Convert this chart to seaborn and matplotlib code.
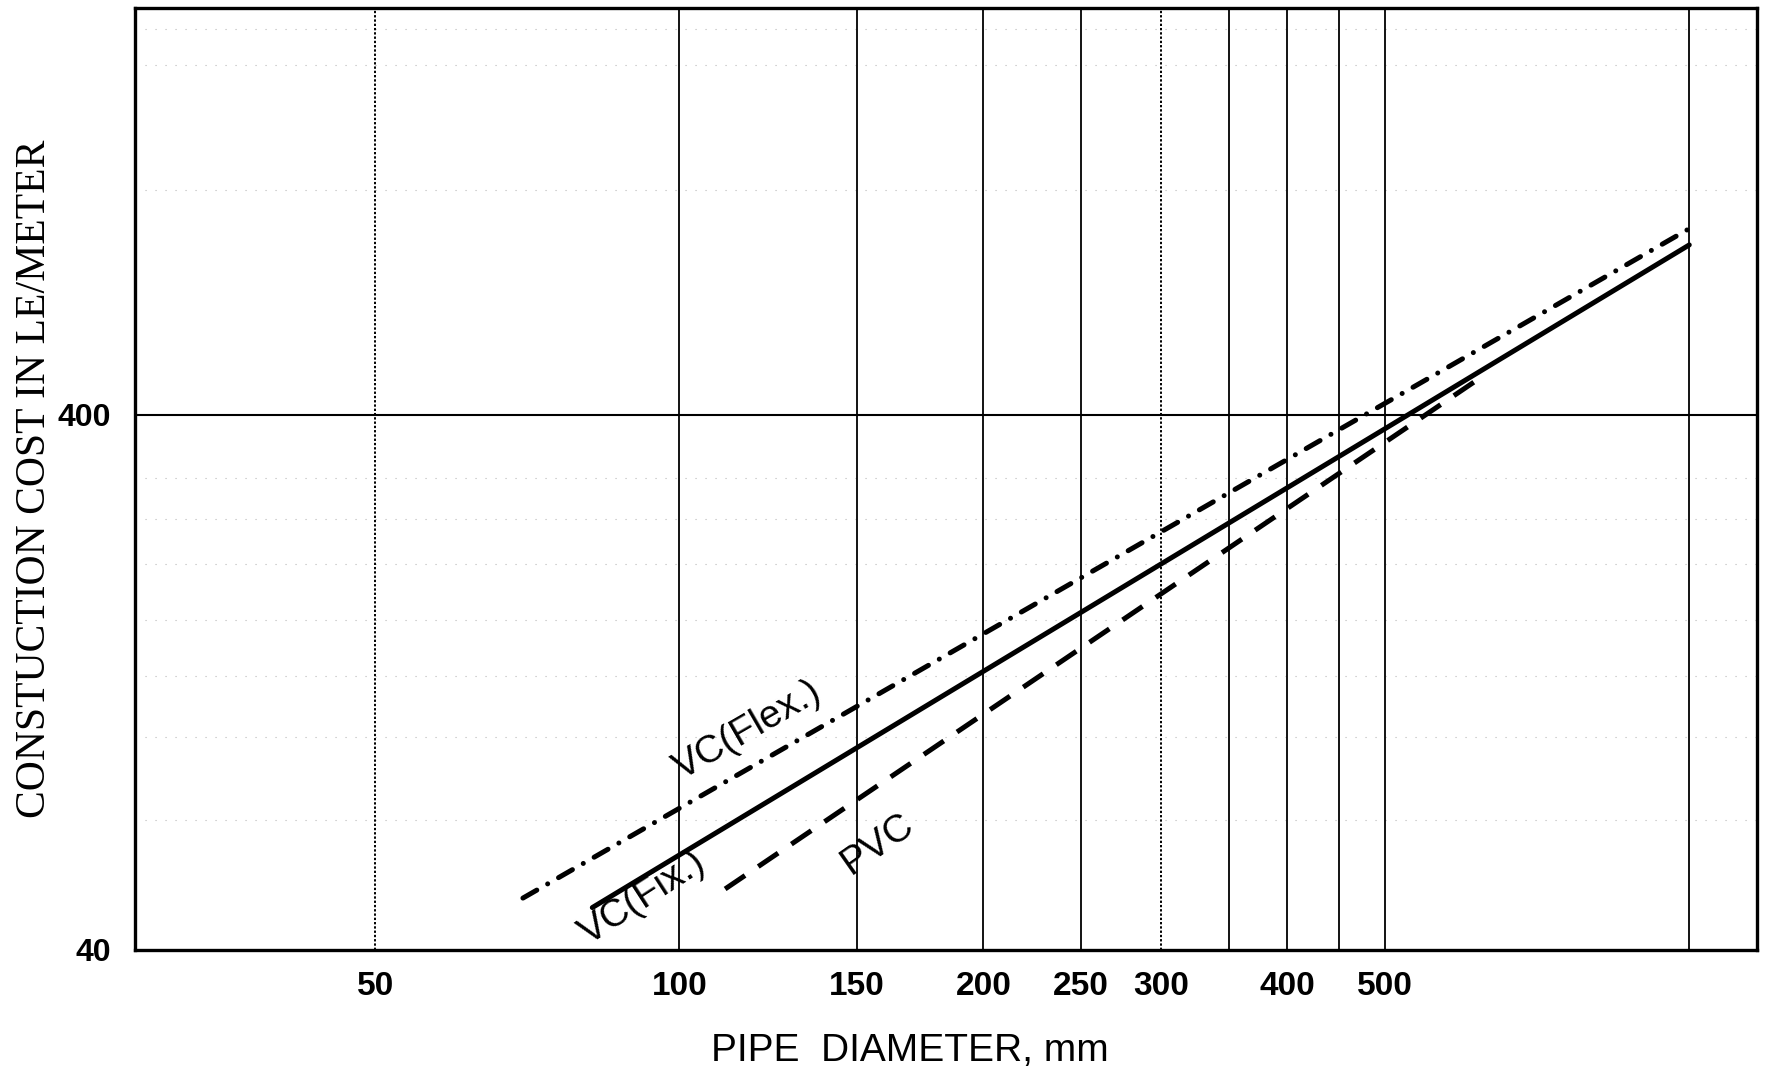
import numpy as np
import pandas as pd
import matplotlib
matplotlib.use("Agg")
import matplotlib.pyplot as plt
import seaborn as sns
from matplotlib.ticker import NullLocator, FixedLocator, FixedFormatter

# ---------------- data ----------------
series_names = ["VC(Flex.)", "VC(Fix.)", "PVC"]
flex_diameter = [70, 1000]
flex_cost = [50, 890]
fix_diameter = [82, 1000]
fix_cost = [48, 830]
pvc_diameter = [111, 612]
pvc_cost = [52, 460]

x_ticks = [50, 100, 150, 200, 250, 300, 400, 500]
x_tick_labels = ["50", "100", "150", "200", "250", "300", "400", "500"]
y_ticks = [40, 400]
y_tick_labels = ["40", "400"]

solid_vgrid = [100, 150, 200, 250, 350, 400, 450, 500, 1000]
dotted_vgrid = [50, 300]
solid_hgrid = [400]
faint_hgrid = [70, 100, 130, 165, 210, 255, 305, 1050, 1800, 2100]

label_x = [117, 92, 157]
label_y = [103, 50, 63]

x_limits = (28.9, 1167)
y_limits = (40, 2300)

# ---------------- figure ----------------
sns.set_theme(style="white")
plt.rcParams["font.family"] = ["Liberation Sans", "DejaVu Sans"]

fig = plt.figure(figsize=(17.66, 10.74), dpi=100)
ax = fig.add_axes([0.0764, 0.1155, 0.9949 - 0.0764, 0.9926 - 0.1155])
ax.set_xscale("log")
ax.set_yscale("log")
ax.set_xlim(*x_limits)
ax.set_ylim(*y_limits)

df = pd.DataFrame({
    "diameter": flex_diameter + fix_diameter + pvc_diameter,
    "cost": flex_cost + fix_cost + pvc_cost,
    "pipe": [series_names[0]] * 2 + [series_names[1]] * 2 + [series_names[2]] * 2,
})

# grid lines
for v in solid_vgrid:
    ax.axvline(v, color="black", lw=1.3, zorder=1)
for v in dotted_vgrid:
    ax.axvline(v, color="black", lw=1.4, ls=(0, (1.2, 1.0)), zorder=1)
for h in solid_hgrid:
    ax.axhline(h, color="black", lw=1.5, zorder=1)
for h in faint_hgrid:
    ax.axhline(h, color="#b8b8b8", lw=0.8, ls=(0, (1, 8)), zorder=0.5)

sns.lineplot(
    data=df, x="diameter", y="cost", hue="pipe", style="pipe",
    hue_order=series_names, style_order=series_names,
    palette={n: "black" for n in series_names},
    dashes={series_names[0]: (3.2, 2.5, 0.01, 2.5),
            series_names[1]: "",
            series_names[2]: (4.8, 3.2)},
    linewidth=3.6, legend=False, sort=False, estimator=None, ax=ax, zorder=3,
)
for ln in ax.lines[-3:]:
    ln.set_dash_capstyle("round")
    ln.set_solid_capstyle("round")
ax.lines[-1].set_dash_capstyle("butt")

# series labels
rotations = [30, 33, 35]
for name, lx, ly, rot in zip(series_names, label_x, label_y, rotations):
    ax.text(lx, ly, name, rotation=rot, rotation_mode="anchor",
            ha="center", va="center", fontsize=28, color="black",
            family=["Liberation Sans", "DejaVu Sans"])

# ticks
ax.xaxis.set_major_locator(FixedLocator(x_ticks))
ax.xaxis.set_major_formatter(FixedFormatter(x_tick_labels))
ax.xaxis.set_minor_locator(NullLocator())
ax.yaxis.set_major_locator(FixedLocator(y_ticks))
ax.yaxis.set_major_formatter(FixedFormatter(y_tick_labels))
ax.yaxis.set_minor_locator(NullLocator())
ax.tick_params(axis="x", length=0, pad=15, labelsize=24, colors="black")
ax.tick_params(axis="y", length=0, pad=17, labelsize=23, colors="black")
for t in ax.get_xticklabels() + ax.get_yticklabels():
    t.set_fontweight("bold")

for s in ax.spines.values():
    s.set_visible(True)
    s.set_color("black")
    s.set_linewidth(2.4)

ax.set_xlabel("PIPE  DIAMETER, mm", fontsize=28, color="black")
ax.xaxis.set_label_coords(0.478, -0.088)
ax.set_ylabel("CONSTUCTION COST IN LE/METER", fontsize=30, color="black",
              family=["Liberation Serif", "DejaVu Serif"])
ax.yaxis.set_label_coords(-0.05, 0.5)

fig.savefig("out.png", dpi=100, facecolor="white")
